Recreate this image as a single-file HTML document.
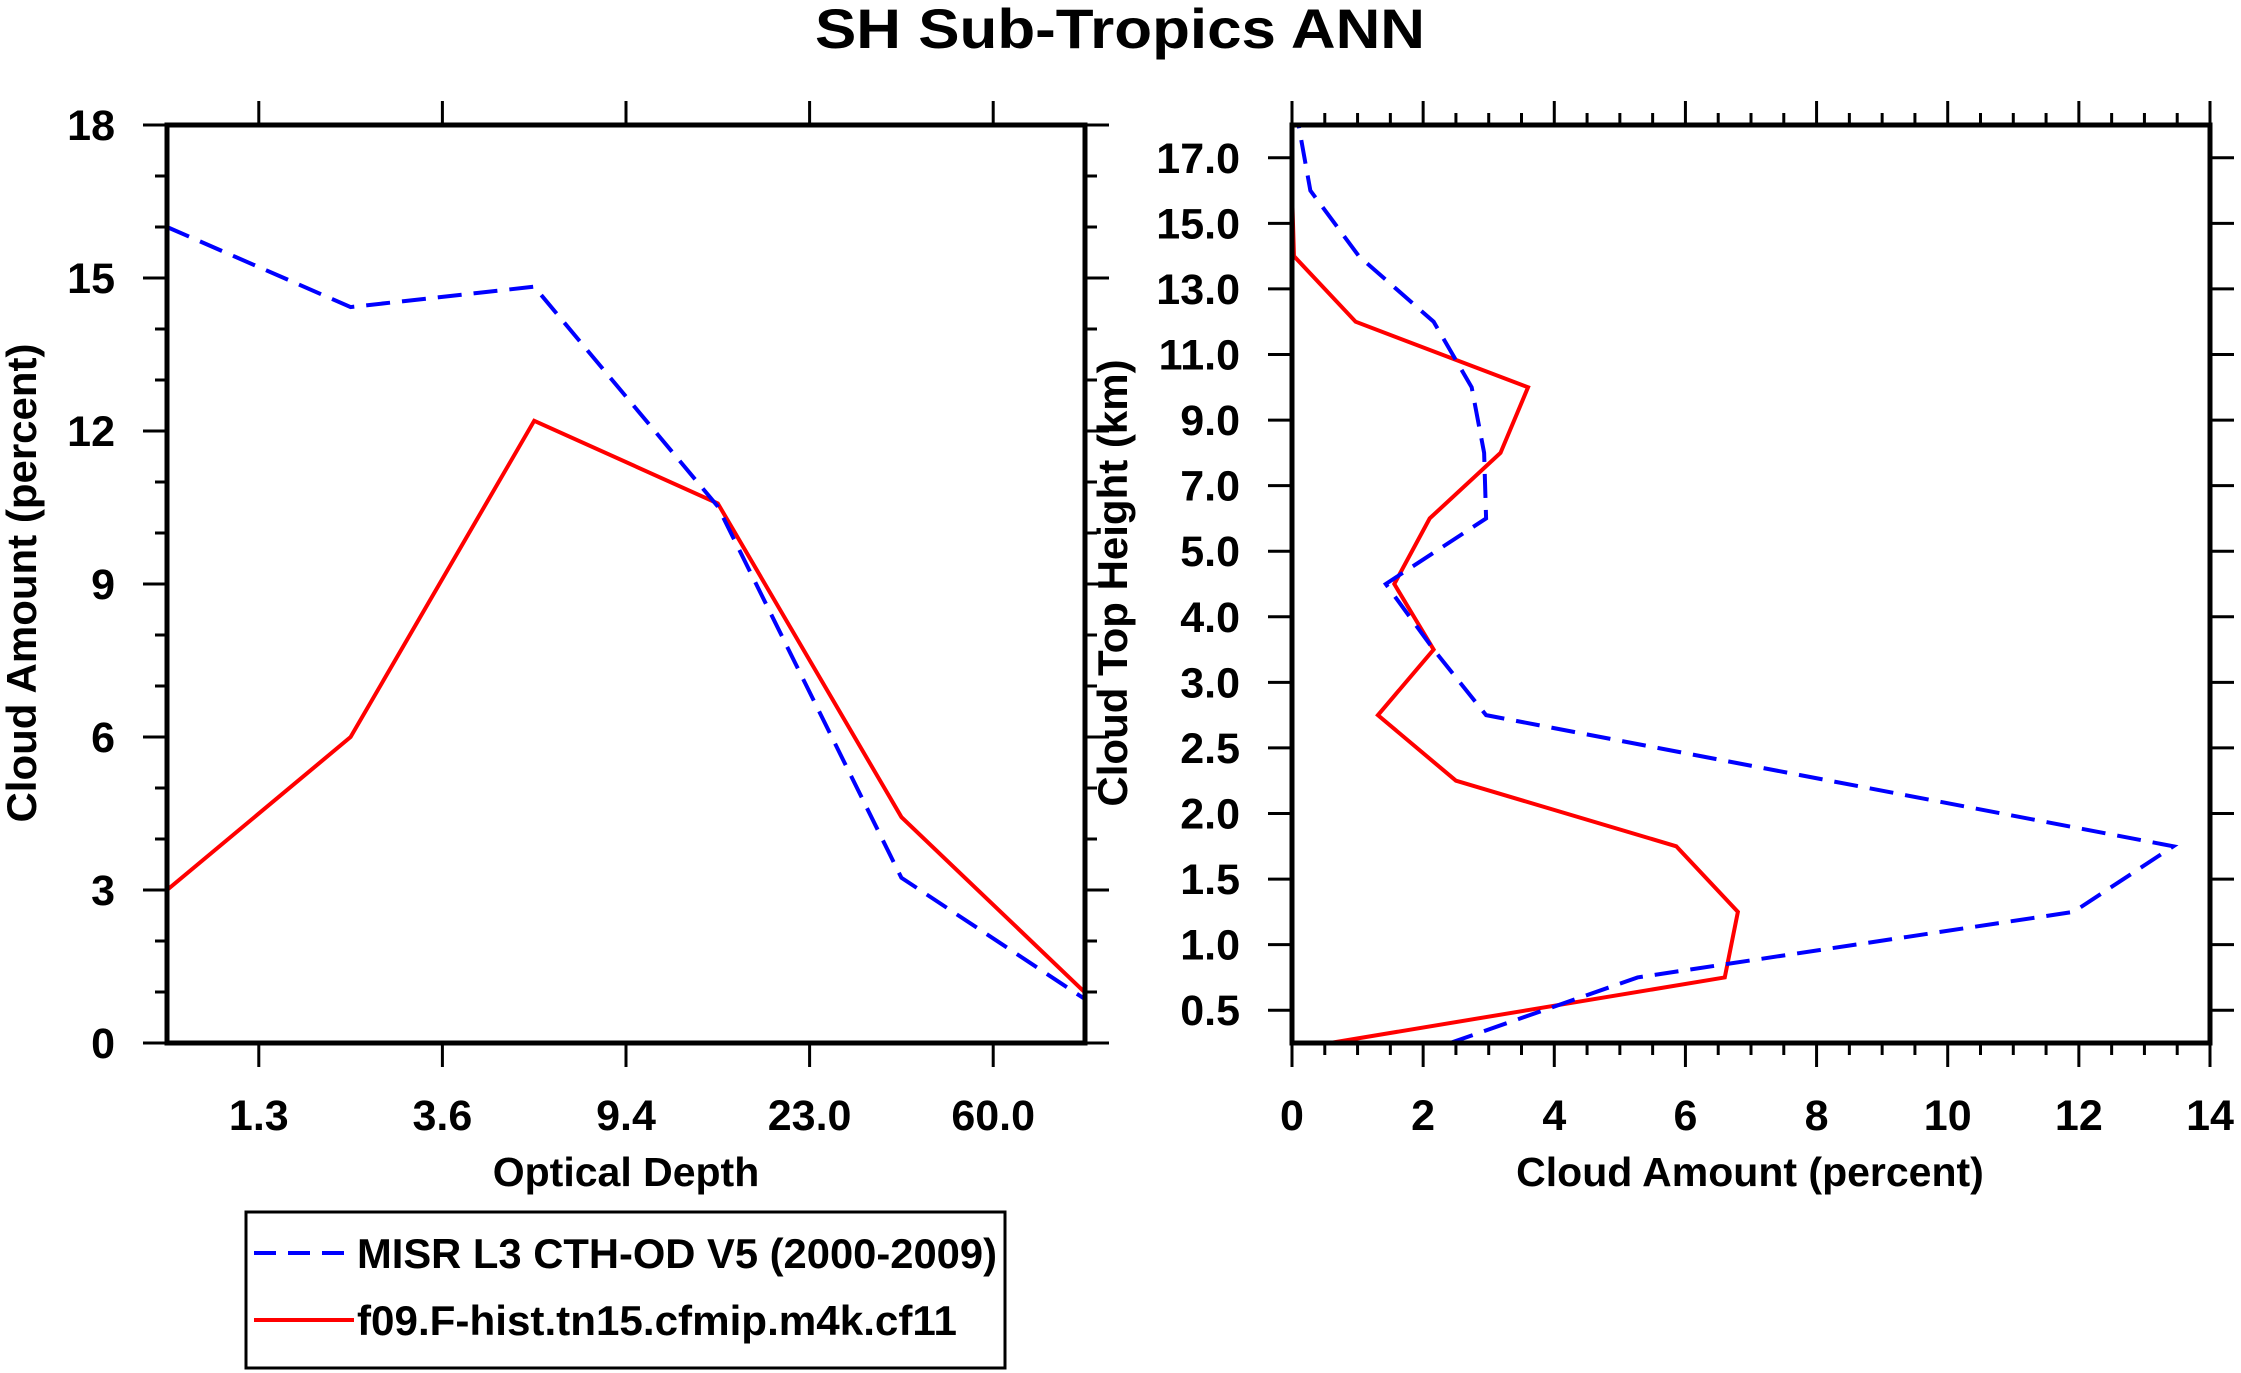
<!DOCTYPE html>
<html><head><meta charset="utf-8"><style>
body{margin:0;background:#fff}
svg{display:block;font-family:"Liberation Sans",Arial,sans-serif;font-weight:bold}
</style></head><body>
<svg id="c" width="2241" height="1373" viewBox="0 0 2241 1373" xmlns="http://www.w3.org/2000/svg">
<text x="1120" y="48" text-anchor="middle" font-size="56" textLength="610" lengthAdjust="spacingAndGlyphs">SH Sub-Tropics ANN</text>
<g id="left"></g>
<g id="right"></g>
<g>
<rect x="246" y="1212" width="759" height="156" fill="none" stroke="#000" stroke-width="3"/>
<line x1="254" y1="1253" x2="354" y2="1253" stroke="#0000ff" stroke-width="4" stroke-dasharray="22,12"/>
<text x="357" y="1268" font-size="42" textLength="640" lengthAdjust="spacingAndGlyphs">MISR L3 CTH-OD V5 (2000-2009)</text>
<line x1="254" y1="1320" x2="354" y2="1320" stroke="#ff0000" stroke-width="4"/>
<text x="357" y="1335" font-size="42" textLength="600" lengthAdjust="spacingAndGlyphs">f09.F-hist.tn15.cfmip.m4k.cf11</text>
</g>
</svg>
<script>
const odLabels=["1.3","3.6","9.4","23.0","60.0"];
const odMisr=[16,14.43,14.83,10.52,3.24,0.86];
const odModel=[3,6,12.2,10.58,4.43,0.99];
const yTicksLeft=[0,3,6,9,12,15,18];
const cthLabels=["0.5","1.0","1.5","2.0","2.5","3.0","4.0","5.0","7.0","9.0","11.0","13.0","15.0","17.0"];
const cthMisr=[2.41,5.27,11.92,13.44,8.2,2.96,2.16,1.43,2.96,2.93,2.74,2.16,1.02,0.28,0.1];
const cthModel=[0.58,6.6,6.8,5.86,2.5,1.31,2.16,1.56,2.1,3.18,3.6,0.97,0.03,0,0];
const xTicksRight=[0,2,4,6,8,10,12,14];

const NS="http://www.w3.org/2000/svg";
const FS=43;
function mk(p,t,a){const e=document.createElementNS(NS,t);for(const k in a)e.setAttribute(k,a[k]);p.appendChild(e);return e;}
function ln(p,x1,y1,x2,y2,w){return mk(p,'line',{x1,y1,x2,y2,stroke:'#000','stroke-width':w});}
const T=125,B=1043;
// LEFT
const L=document.getElementById('left');
const lx0=167,lx1=1085;
const lx=v=>lx0+v*(lx1-lx0)/5, ly=v=>B-v*(B-T)/18;
for(let v=0;v<=18;v++){const len=v%3===0?24:12;
 const t1=ln(L,lx0-len,ly(v),lx0,ly(v),3);
 
 
 const t2=ln(L,lx1,ly(v),lx1+len,ly(v),3);
 
 }
yTicksLeft.forEach(v=>{const t=mk(L,'text',{x:lx0-52,y:ly(v)+15,'text-anchor':'end','font-size':FS});t.textContent=v;
 
 });
odLabels.forEach((s,i)=>{const x=lx(i+0.5);
 const a=ln(L,x,T-24,x,T,3);
 const b=ln(L,x,B,x,B+24,3);
 const t=mk(L,'text',{x:x,y:1130,'text-anchor':'middle','font-size':FS});t.textContent=s;
 
 });
function series(p,xs,ys,col,dash,name){const pts=xs.map((x,i)=>x+','+ys[i]).join(' ');
 const e=mk(p,'polyline',{points:pts,fill:'none',stroke:col,'stroke-width':4,'stroke-linejoin':'miter'});
 if(dash)e.setAttribute('stroke-dasharray','24,12');
 
 }
series(L,odModel.map((v,i)=>lx(i)),odModel.map(ly),'#ff0000',false,'model-line-optical-depth');
series(L,odMisr.map((v,i)=>lx(i)),odMisr.map(ly),'#0000ff',true,'misr-line-optical-depth');
const lf=mk(L,'rect',{x:lx0,y:T,width:lx1-lx0,height:B-T,fill:'none',stroke:'#000','stroke-width':5});

let t=mk(L,'text',{x:626,y:1186,'text-anchor':'middle','font-size':41});t.textContent='Optical Depth';

t=mk(L,'text',{x:0,y:0,'text-anchor':'middle','font-size':42,transform:'translate(36,583) rotate(-90)'});t.textContent='Cloud Amount (percent)';

// RIGHT
const R=document.getElementById('right');
const rx0=1292,rx1=2210;
const rx=v=>rx0+v*(rx1-rx0)/14, ry=i=>B-i*(B-T)/14;
for(let v=0;v<=14;v+=0.5){const len=v%2===0?24:12;
 const a=ln(R,rx(v),T-len,rx(v),T,3);
 const b=ln(R,rx(v),B,rx(v),B+len,3);}
xTicksRight.forEach(v=>{const t=mk(R,'text',{x:rx(v),y:1130,'text-anchor':'middle','font-size':FS});t.textContent=v;
 });
cthLabels.forEach((s,i)=>{const y=ry(i+0.5);
 const a=ln(R,rx0-24,y,rx0,y,3);
 const b=ln(R,rx1,y,rx1+24,y,3);
 const t=mk(R,'text',{x:rx0-52,y:y+15,'text-anchor':'end','font-size':FS});t.textContent=s;
 });
series(R,cthModel.map(rx),cthModel.map((v,i)=>ry(i)),'#ff0000',false,'model-line-cth');
series(R,cthMisr.map(rx),cthMisr.map((v,i)=>ry(i)),'#0000ff',true,'misr-line-cth');
const rf=mk(R,'rect',{x:rx0,y:T,width:rx1-rx0,height:B-T,fill:'none',stroke:'#000','stroke-width':5});

t=mk(R,'text',{x:1750,y:1186,'text-anchor':'middle','font-size':41});t.textContent='Cloud Amount (percent)';

t=mk(R,'text',{x:0,y:0,'text-anchor':'middle','font-size':42,transform:'translate(1127,583) rotate(-90)'});t.textContent='Cloud Top Height (km)';

</script>
</body></html>
